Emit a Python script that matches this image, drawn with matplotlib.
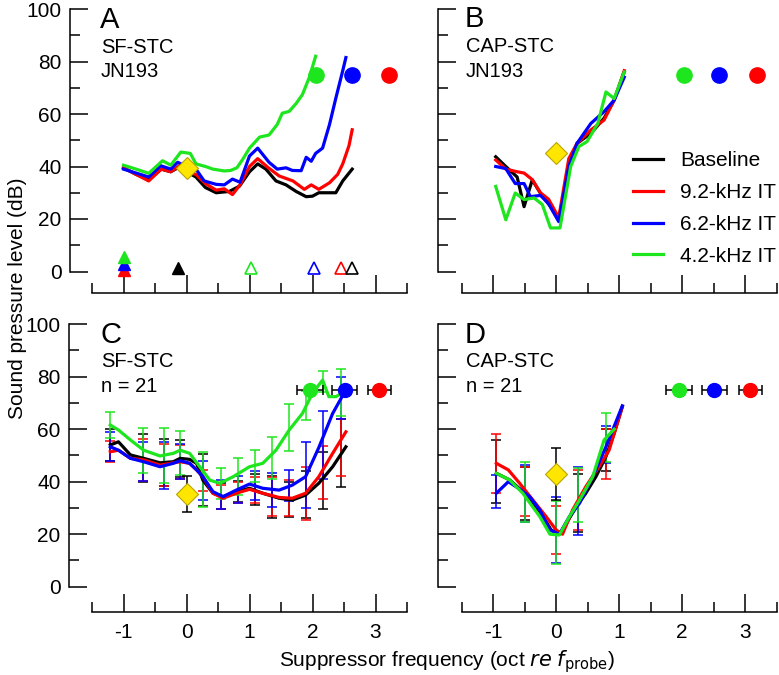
import matplotlib
matplotlib.use('Agg')
from matplotlib import pyplot as plt

plt.rcParams['font.family'] = ['Liberation Sans', 'DejaVu Sans']
plt.rcParams['axes.unicode_minus'] = False

W, H = 779, 675
BLACK, RED, BLUE, GREEN = '#000000', '#ff0000', '#0000ff', '#1ee61e'
YELLOW = '#ffe600'
colors = [BLACK, RED, BLUE, GREEN]
names = ['Baseline', '9.2-kHz IT', '6.2-kHz IT', '4.2-kHz IT']

# ---- panel A: single SF-STC (JN193)
a_x = [
    [-1.0, -0.8, -0.6, -0.4, -0.25, -0.1, 0.0, 0.15, 0.3, 0.47, 0.68, 0.84, 1.0, 1.13,
     1.26, 1.42, 1.58, 1.74, 1.9, 2.0, 2.1, 2.37, 2.48, 2.63],
    [-1.0, -0.8, -0.6, -0.4, -0.25, -0.1, 0.0, 0.15, 0.3, 0.47, 0.6, 0.73, 0.85, 1.0,
     1.13, 1.3, 1.47, 1.69, 1.87, 1.98, 2.1, 2.27, 2.4, 2.48, 2.58, 2.63],
    [-1.0, -0.8, -0.6, -0.41, -0.25, -0.14, 0.0, 0.15, 0.28, 0.47, 0.6, 0.73, 0.85, 1.0,
     1.13, 1.31, 1.44, 1.58, 1.68, 1.82, 1.9, 1.98, 2.05, 2.16, 2.27, 2.37, 2.48, 2.53],
    [-1.0, -0.8, -0.6, -0.38, -0.25, -0.09, 0.06, 0.15, 0.3, 0.42, 0.6, 0.7, 0.8, 0.9,
     1.0, 1.16, 1.31, 1.44, 1.52, 1.63, 1.74, 1.84, 1.95, 2.05],
]
a_y = [
    [39.5, 37, 35, 39, 38, 40, 38, 36, 32, 30, 30.5, 32.5, 38, 41, 39, 34.5, 33, 30.5,
     28.5, 28.7, 30, 30, 34.5, 39],
    [39.5, 37, 34.5, 39, 38, 40.5, 38, 37, 33.5, 31, 31.5, 29.3, 33, 40, 43, 39.5, 36.4,
     34.5, 31.3, 33, 31.3, 33.8, 37, 41, 48, 54],
    [39, 37.5, 36, 40.3, 39, 41.6, 40, 39, 34.5, 33.2, 33, 35.2, 34, 44, 47, 41.6, 39,
     39.5, 38.5, 38.4, 43.5, 42, 45, 47, 56, 66, 76.5, 81.5],
    [40.5, 39, 37.4, 42.2, 40.5, 45.5, 45, 41, 40, 39, 38.3, 38.5, 39.5, 43, 47, 51.2,
     52, 56, 60.3, 61, 64, 67.4, 74, 82],
]
a_dot_x = [3.22, 2.63, 2.05]          # red, blue, green
a_diamond = (0.0, 39.5)
a_tri_filled_x = [-1.0, -1.0, -1.0, -0.14]
a_tri_filled_y = [0.5, 2.8, 5.6, 1.2]
a_tri_filled_c = [RED, BLUE, GREEN, BLACK]
a_tri_open_x = [1.02, 2.03, 2.45, 2.63]
a_tri_open_c = [GREEN, BLUE, RED, BLACK]

# ---- panel B: single CAP-STC (JN193)
b_x = [
    [-0.96, -0.8, -0.62, -0.51, -0.38, -0.25, -0.09, 0.04, 0.2, 0.33, 0.55, 0.76, 0.92, 1.08],
    [-0.96, -0.8, -0.62, -0.51, -0.38, -0.25, -0.12, 0.04, 0.2, 0.33, 0.55, 0.76, 0.92, 1.08],
    [-0.96, -0.8, -0.65, -0.51, -0.41, -0.25, -0.12, 0.04, 0.2, 0.33, 0.55, 0.76, 0.92, 1.08],
    [-0.96, -0.8, -0.65, -0.51, -0.35, -0.22, -0.09, 0.06, 0.23, 0.36, 0.49, 0.66, 0.79,
     0.92, 1.08],
]
b_y = [
    [43.7, 40, 36, 24.7, 34.9, 29.8, 24.7, 19.6, 40, 48.8, 52.6, 58.4, 65.3, 76],
    [42.5, 39, 38, 37.5, 35, 30, 27.5, 20.5, 43, 48.8, 53.9, 57.7, 65.3, 76.5],
    [40, 39.2, 33.5, 33.5, 28.5, 29, 25.8, 19, 40, 48.8, 56.4, 60.9, 65.3, 74],
    [32.4, 19.7, 29.9, 27.4, 28, 25.5, 16.6, 16.6, 40, 47.6, 49.5, 56.4, 68.4, 65.9, 76],
]
b_dot_x = [3.18, 2.58, 2.03]
b_diamond = (0.0, 45.0)

# ---- panel C: mean SF-STC (n = 21)
c_x = [-1.21, -1.08, -0.89, -0.68, -0.42, -0.21, -0.1, 0.05, 0.16, 0.26, 0.42, 0.58,
       0.79, 1.0, 1.21, 1.47, 1.68, 1.89, 2.1, 2.32, 2.53]
c_y = [
    [54, 55.2, 50.2, 48.9, 47.2, 47.6, 48.9, 48.5, 47, 40.6, 35.6, 34.3, 36.2, 37.5,
     35.6, 33.7, 33, 34.9, 39.4, 45.7, 53.3],
    [51.4, 52, 48.9, 48.3, 46.3, 47.2, 47.6, 47, 44.5, 41.9, 35.6, 33.7, 35.6, 37.1,
     35.6, 34, 33.7, 35.6, 41.9, 50.8, 59],
    [53.3, 52, 48.9, 47.6, 45.7, 47, 48, 47, 44.5, 41.9, 36.2, 34.3, 36.8, 39.1, 37.5,
     36.8, 38.7, 41.9, 53, 66, 75],
]
c_green_x = [-1.21, -1.08, -0.89, -0.68, -0.42, -0.21, -0.1, 0.05, 0.21, 0.37, 0.53,
             0.74, 1.0, 1.21, 1.42, 1.63, 1.84, 2.0, 2.16, 2.26, 2.37, 2.47]
c_green_y = [61.6, 59.7, 55.9, 52, 49.8, 50.8, 52, 50.8, 45.7, 40.6, 39.4, 41.9, 45.7,
             47, 52, 59.7, 66, 73.7, 78.7, 72.4, 72.4, 73.7]
c_bar_x = [-1.21, -0.69, -0.36, -0.11, 0.26, 0.54, 0.82, 1.09, 1.36, 1.63, 1.89, 2.16, 2.45]
c_bar_mid = [
    [54, 49, 47.3, 48.8, 40.6, 34.5, 36.3, 37, 34.2, 33.2, 35, 40.5, 51],
    [51.4, 48.3, 46.5, 47.5, 40.5, 34.2, 36, 36.8, 34.4, 33.8, 35.6, 43.5, 53],
    [53.3, 47.7, 46.3, 47.7, 40.5, 35, 37, 38.5, 37, 38.5, 42.5, 54, 72],
    [61.6, 52, 49.9, 51, 41, 39.4, 42, 46, 49, 60.7, 69, 78, 74],
]
c_bar_err = [
    [6, 9, 9, 7, 10, 5, 4, 6, 8, 6.5, 9, 11, 13],
    [4, 8, 8, 6.5, 4, 4.5, 4, 5, 7.5, 7, 10, 10, 11],
    [5.5, 7.5, 9, 6.5, 7.5, 5.5, 5, 5.5, 6.5, 6, 12.7, 13, 8],
    [5, 8.5, 10.5, 8.5, 10.5, 6, 7, 6, 8, 9, 5.5, 4, 9],
]
c_dot_x = [3.06, 2.51, 1.96]
c_dot_xerr = [0.18, 0.2, 0.2]
c_diamond = (0.0, 35.3, 6.7)

# ---- panel D: mean CAP-STC (n = 21)
d_x = [
    [-0.95, -0.74, -0.5, -0.26, -0.08, 0.05, 0.16, 0.32, 0.47, 0.63, 0.79, 0.92, 1.05],
    [-0.95, -0.76, -0.58, -0.37, -0.16, 0.0, 0.1, 0.26, 0.47, 0.68, 0.84, 1.05],
    [-0.95, -0.76, -0.6, -0.42, -0.26, -0.1, 0.05, 0.21, 0.37, 0.58, 0.79, 1.05],
    [-0.95, -0.74, -0.53, -0.26, -0.1, 0.05, 0.21, 0.37, 0.58, 0.76, 0.92],
]
d_y = [
    [43.2, 40.7, 35.6, 28.6, 21.6, 20, 24.1, 30.5, 35.6, 41.9, 49.6, 58.4, 68.6],
    [47, 44.5, 39.4, 33, 26.7, 21.6, 20, 29.2, 38.1, 45.7, 52, 68.6],
    [35.6, 40, 37.5, 34.3, 29.2, 21.6, 20, 26.7, 31.8, 41.9, 53.3, 68.9],
    [43.2, 40.7, 35.6, 26.7, 20, 19.7, 26.7, 33, 41.9, 55.9, 60],
]
d_bar_x = [
    [-0.95, -0.5, 0.34, 0.79],
    [-0.95, -0.5, 0.0, 0.34, 0.79],
    [-0.95, -0.5, 0.0, 0.34, 0.79],
    [-0.5, 0.0, 0.34, 0.79],
]
d_bar_mid = [
    [43.9, 35.5, 32, 52.2],
    [47, 36.4, 21.6, 33, 50.5],
    [36.2, 35.6, 21.6, 32.6, 54.2],
    [36.2, 20.8, 35.1, 56.8],
]
d_bar_err = [
    [12, 10, 11, 8],
    [11.3, 9.3, 9, 11.5, 9.5],
    [6.3, 10.8, 12.7, 13, 7],
    [11.4, 12, 10.3, 9.2],
]
d_dot_x = [3.08, 2.51, 1.95]
d_dot_xerr = [0.18, 0.2, 0.2]
d_diamond = (0.0, 42.9, 9.9)


def px_box(left, top, right, bottom):
    return [left / W, 1 - bottom / H, (right - left) / W, (bottom - top) / H]


def style_axes(ax, ylabels, xlabels, x_off, y_off):
    ax.set_xlim(-1.5, 3.5)
    ax.set_ylim(0, 100)
    for s in ('top', 'right'):
        ax.spines[s].set_visible(False)
    ax.spines['left'].set_position(('outward', x_off * 72 / 100))
    ax.spines['bottom'].set_position(('outward', y_off * 72 / 100))
    ax.spines['left'].set_linewidth(1.1)
    ax.spines['bottom'].set_linewidth(1.1)
    ax.set_xticks([-1, 0, 1, 2, 3])
    ax.set_xticks([-1.5, -0.5, 0.5, 1.5, 2.5, 3.5], minor=True)
    ax.set_yticks(range(0, 101, 20))
    ax.set_yticks(range(10, 100, 20), minor=True)
    ax.tick_params(which='major', direction='in', length=13, width=1.1, labelsize=15, pad=6)
    ax.tick_params(which='minor', direction='in', length=7, width=1.1)
    ax.tick_params(axis='x', pad=8)
    if not ylabels:
        ax.set_yticklabels([])
    if not xlabels:
        ax.set_xticklabels([])
    ax.patch.set_visible(False)


fig = plt.figure(figsize=(W / 100, H / 100), dpi=100)
ax_a = fig.add_axes(px_box(92, 9, 407, 271.5))
ax_b = fig.add_axes(px_box(461.7, 9, 776.7, 271.5))
ax_c = fig.add_axes(px_box(92, 324.2, 407, 586.7))
ax_d = fig.add_axes(px_box(461.7, 324.2, 776.7, 586.7))
style_axes(ax_a, True, False, 22, 21)
style_axes(ax_b, False, False, 24, 21)
style_axes(ax_c, True, True, 23, 25)
style_axes(ax_d, False, True, 24, 25)

lw = 2.3
dot_colors = [RED, BLUE, GREEN]

# A
for xs, ys, c in zip(a_x, a_y, colors):
    ax_a.plot(xs, ys, color=c, lw=lw)
ax_a.plot(*a_diamond, marker='D', ms=11, color=YELLOW, mec='#b8a400', mew=0.8, zorder=5)
for x, c in zip(a_dot_x, dot_colors):
    ax_a.plot(x, 75, 'o', ms=11, color=c, clip_on=False)
for x, y, c in zip(a_tri_filled_x, a_tri_filled_y, a_tri_filled_c):
    ax_a.plot(x, y, '^', ms=9, color=c, clip_on=False)
for x, c in zip(a_tri_open_x, a_tri_open_c):
    ax_a.plot(x, 1.2, '^', ms=8, mfc='white', mec=c, mew=1.2, clip_on=False)

# B
lines = []
for xs, ys, c in zip(b_x, b_y, colors):
    ln, = ax_b.plot(xs, ys, color=c, lw=lw)
    lines.append(ln)
ax_b.plot(*b_diamond, marker='D', ms=11, color=YELLOW, mec='#b8a400', mew=0.8, zorder=5)
for x, c in zip(b_dot_x, dot_colors):
    ax_b.plot(x, 75, 'o', ms=11, color=c, clip_on=False)
fig.legend(lines, names, loc='upper left', bbox_to_anchor=(633 / W, 1 - 151 / H),
           frameon=False, fontsize=15, handlelength=1.45, handletextpad=0.8,
           labelspacing=0.62, borderpad=0, borderaxespad=0)

# C
for i, c in enumerate(colors):
    ax_c.errorbar(c_bar_x, c_bar_mid[i], yerr=c_bar_err[i], fmt='none', ecolor=c,
                  elinewidth=1.1, capsize=3.8, capthick=1.1)
for ys, c in zip(c_y, colors[:3]):
    ax_c.plot(c_x, ys, color=c, lw=lw)
ax_c.plot(c_green_x, c_green_y, color=GREEN, lw=lw)
ax_c.errorbar(c_diamond[0], c_diamond[1], yerr=c_diamond[2], fmt='none', ecolor=BLACK,
              elinewidth=1.1, capsize=3.8, capthick=1.1)
ax_c.plot(c_diamond[0], c_diamond[1], marker='D', ms=11, color=YELLOW, mec='#b8a400',
          mew=0.8, zorder=5)
for x, xe, c in zip(c_dot_x, c_dot_xerr, dot_colors):
    ax_c.errorbar(x, 75, xerr=xe, fmt='o', ms=10, color=c, ecolor=BLACK, elinewidth=1.1,
                  capsize=3.8, capthick=1.1, clip_on=False)

# D
for i, c in enumerate(colors):
    ax_d.errorbar(d_bar_x[i], d_bar_mid[i], yerr=d_bar_err[i], fmt='none', ecolor=c,
                  elinewidth=1.1, capsize=3.8, capthick=1.1)
for xs, ys, c in zip(d_x, d_y, colors):
    ax_d.plot(xs, ys, color=c, lw=lw)
ax_d.errorbar(d_diamond[0], d_diamond[1], yerr=d_diamond[2], fmt='none', ecolor=BLACK,
              elinewidth=1.1, capsize=3.8, capthick=1.1)
ax_d.plot(d_diamond[0], d_diamond[1], marker='D', ms=11, color=YELLOW, mec='#b8a400',
          mew=0.8, zorder=5)
for x, xe, c in zip(d_dot_x, d_dot_xerr, dot_colors):
    ax_d.errorbar(x, 75, xerr=xe, fmt='o', ms=10, color=c, ecolor=BLACK, elinewidth=1.1,
                  capsize=3.8, capthick=1.1, clip_on=False)

# panel texts
def ftext(x, y, s, size):
    fig.text(x / W, 1 - y / H, s, fontsize=size, va='baseline', ha='left')

ftext(100, 28, 'A', 21)
ftext(101, 53, 'SF-STC', 14.5)
ftext(101, 77, 'JN193', 14.5)
ftext(465, 27, 'B', 21)
ftext(466, 52, 'CAP-STC', 14.5)
ftext(466, 77, 'JN193', 14.5)
ftext(100, 343, 'C', 21)
ftext(101, 367, 'SF-STC', 14.5)
ftext(101, 392, 'n = 21', 14.5)
ftext(465, 343, 'D', 21)
ftext(466, 367, 'CAP-STC', 14.5)
ftext(466, 392, 'n = 21', 14.5)

fig.text(18 / W, 1 - 298 / H, 'Sound pressure level (dB)', rotation=90, fontsize=15,
         ha='center', va='center')
fig.text(447 / W, 1 - 662 / H, r'Suppressor frequency (oct $\it{re}$ $\it{f}_{\rm probe}$)',
         fontsize=15, ha='center', va='center')

fig.savefig('out.png', dpi=100)
